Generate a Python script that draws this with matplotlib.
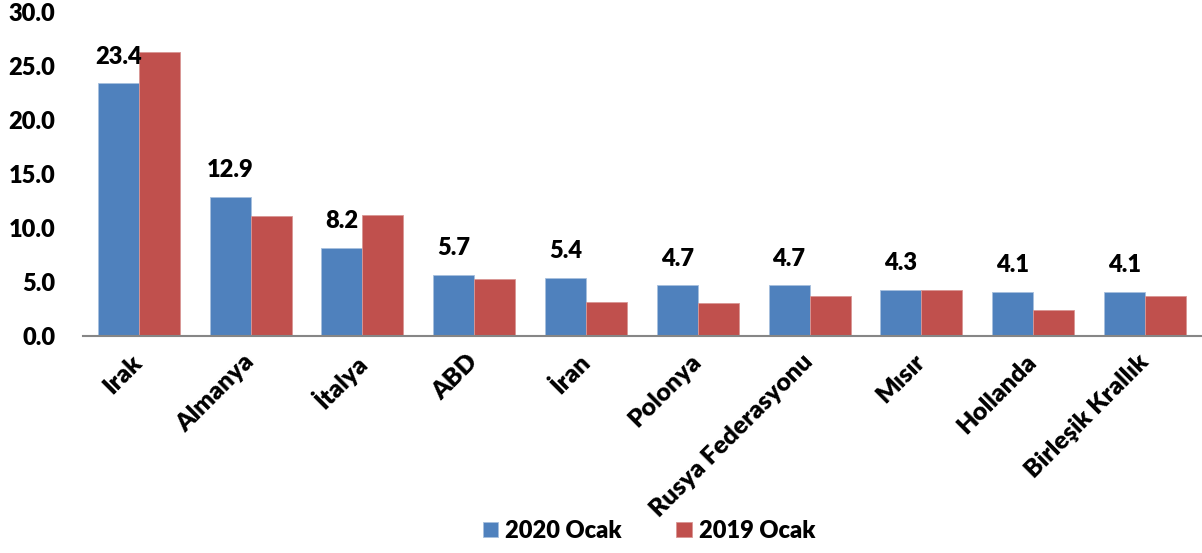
import matplotlib

matplotlib.use("Agg")
import matplotlib.pyplot as plt
import numpy as np

plt.rcParams["font.family"] = ["Lato", "DejaVu Sans"]
plt.rcParams["font.weight"] = "bold"

countries = ["Irak", "Almanya", "İtalya", "ABD", "İran", "Polonya",
             "Rusya Federasyonu", "Mısır", "Hollanda", "Birleşik Krallık"]
ocak_2020 = [23.4, 12.9, 8.2, 5.7, 5.4, 4.7, 4.7, 4.3, 4.1, 4.1]
ocak_2019 = [26.3, 11.1, 11.2, 5.3, 3.2, 3.1, 3.7, 4.3, 2.4, 3.7]
y_ticks = [0, 5, 10, 15, 20, 25, 30]

blue = "#4F81BD"
red = "#C0504D"

fig = plt.figure(figsize=(12.02, 5.53), dpi=100)
ax = fig.add_axes([0.069, 0.392, 0.93, 0.586])

x = np.arange(len(countries))
w = 0.367
b1 = ax.bar(x - w / 2, ocak_2020, w, color=blue, edgecolor="#a7bfde",
            linewidth=0.6, label="2020 Ocak")
b2 = ax.bar(x + w / 2, ocak_2019, w, color=red, edgecolor="#d99694",
            linewidth=0.6, label="2019 Ocak")

# only the 2020 bars carry value labels
for xi, v in zip(x - w / 2, ocak_2020):
    ax.annotate(f"{v:.1f}", (xi, v), xytext=(0, 14), textcoords="offset points",
                ha="center", va="baseline", fontsize=17, fontweight="heavy")

ax.set_xlim(-0.5, len(countries) - 0.5)
ax.set_ylim(0, 30)
ax.set_yticks(y_ticks)
ax.set_yticklabels([f"{t:.1f}" for t in y_ticks], fontsize=17, fontweight="heavy")
ax.set_xticks(x)
ax.set_xticklabels(countries, rotation=45, ha="right", va="center",
                   rotation_mode="anchor", fontsize=18, fontweight="heavy")
ax.tick_params(axis="both", length=0)
ax.tick_params(axis="x", pad=16)
ax.tick_params(axis="y", pad=20)

for s in ("top", "right", "left"):
    ax.spines[s].set_visible(False)
ax.spines["bottom"].set_color("#868686")
ax.spines["bottom"].set_linewidth(1.5)

fig.legend(handles=[b1, b2], loc="center", bbox_to_anchor=(0.54, 0.04),
           ncol=2, frameon=False, handlelength=0.65,
           handleheight=0.65, handletextpad=0.3, columnspacing=2.3,
           prop={"weight": "heavy", "size": 17})

fig.savefig("out.png", dpi=100, facecolor="white")
